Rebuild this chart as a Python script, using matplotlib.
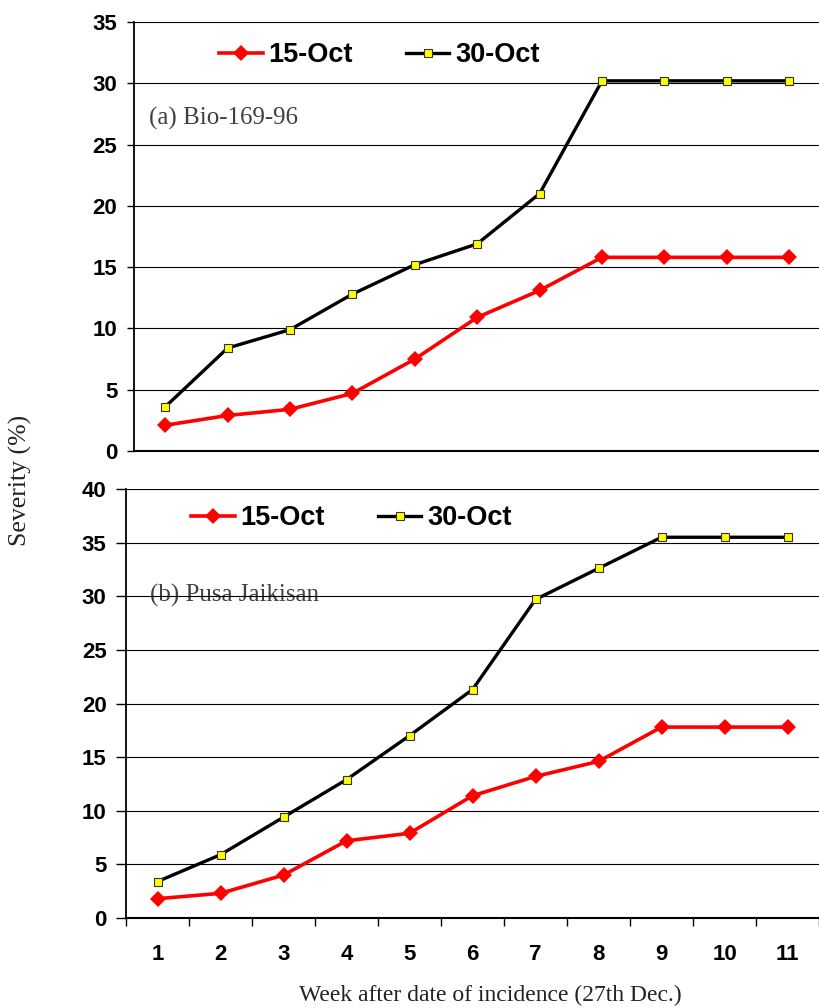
import matplotlib
matplotlib.use("Agg")
import matplotlib.pyplot as plt
import numpy as np

weeks = [1, 2, 3, 4, 5, 6, 7, 8, 9, 10, 11]
week_labels = ["1", "2", "3", "4", "5", "6", "7", "8", "9", "10", "11"]

# (a) Bio-169-96
bio_15oct = [2.1, 2.9, 3.4, 4.7, 7.5, 10.9, 13.1, 15.8, 15.8, 15.8, 15.8]
bio_30oct = [3.6, 8.4, 9.9, 12.8, 15.2, 16.9, 21.0, 30.2, 30.2, 30.2, 30.2]

# (b) Pusa Jaikisan
pusa_15oct = [1.8, 2.3, 4.0, 7.2, 7.9, 11.4, 13.2, 14.6, 17.8, 17.8, 17.8]
pusa_30oct = [3.4, 5.9, 9.4, 12.9, 17.0, 21.3, 29.7, 32.6, 35.5, 35.5, 35.5]

series_names = ["15-Oct", "30-Oct"]

W, H = 819, 1008
fig = plt.figure(figsize=(W / 100, H / 100), dpi=100)

def fx(px):
    return px / W

def fy(py):
    return 1 - py / H

serif = "Liberation Serif"
TICK_FS = 16

def style_axes(ax, ymax, tick_len):
    ax.set_ylim(0, ymax)
    ax.set_yticks(np.arange(0, ymax + 1, 5))
    ax.yaxis.grid(True, color="black", linewidth=0.8)
    ax.set_axisbelow(True)
    for s in ["top", "right"]:
        ax.spines[s].set_visible(False)
    ax.spines["left"].set_linewidth(1.3)
    ax.spines["bottom"].set_linewidth(1.5)
    ax.tick_params(axis="y", direction="out", length=tick_len, width=1.0,
                   pad=7, labelsize=TICK_FS)
    for lab in ax.get_yticklabels():
        lab.set_fontfamily("Liberation Sans")
        lab.set_fontweight("bold")

def draw(ax, s1, s2):
    ax.plot(weeks, s1, color="#FF0000", linewidth=2.6, marker="D",
            markersize=8, markeredgewidth=0, label=series_names[0], zorder=3)
    ax.plot(weeks, s2, color="black", linewidth=2.4, marker="s",
            markersize=6, markerfacecolor="#FFFF00", markeredgecolor="#333333",
            markeredgewidth=0.8, label=series_names[1], zorder=3)

# Top axes
t_left, t_top, t_bot = 134, 22, 451
ax1 = fig.add_axes([fx(t_left), fy(t_bot), 1 - fx(t_left), (t_bot - t_top) / H])
draw(ax1, bio_15oct, bio_30oct)
ax1.set_xlim(0.5, 0.5 + (W - t_left) / 62.4)
ax1.set_xticks([])
style_axes(ax1, 35, 5)

# Bottom axes
b_left, b_top, b_bot = 126, 489, 918
ax2 = fig.add_axes([fx(b_left), fy(b_bot), 1 - fx(b_left), (b_bot - b_top) / H])
draw(ax2, pusa_15oct, pusa_30oct)
ax2.set_xlim(0.5, 0.5 + (W - b_left) / 63.9)
style_axes(ax2, 40, 7)
ax2.set_xticks(np.arange(0.5, 12, 1.0))
ax2.set_xticklabels([])
ax2.tick_params(axis="x", which="major", direction="out", length=6, width=1.0)
ax2.set_xticks(weeks, minor=True)
ax2.set_xticklabels(week_labels, minor=True, fontsize=TICK_FS,
                    fontfamily="Liberation Sans", fontweight="bold")
ax2.tick_params(axis="x", which="minor", length=0, pad=19)

# Legends
leg_kw = dict(ncol=2, frameon=False, borderpad=0, borderaxespad=0,
              handlelength=1.62, handletextpad=0.2, columnspacing=1.95,
              prop={"family": "Liberation Sans", "weight": "bold", "size": 19.5})
ax1.legend(loc="center left", bbox_to_anchor=(fx(219), fy(55)),
           bbox_transform=fig.transFigure, **leg_kw)
ax2.legend(loc="center left", bbox_to_anchor=(fx(191), fy(518)),
           bbox_transform=fig.transFigure, **leg_kw)

# Annotations
fig.text(fx(149), fy(125), "(a) Bio-169-96", family=serif, fontsize=18,
         color="#404040", va="baseline", ha="left")
ax2.text(fx(150), fy(602), "(b) Pusa Jaikisan", family=serif, fontsize=18,
         color="#404040", va="baseline", ha="left", transform=fig.transFigure,
         zorder=0)

# Axis labels
fig.text(fx(20), fy(480), "Severity (%)", family=serif, fontsize=18.5,
         color="#222222", rotation=90, ha="center", va="center")
fig.text(fx(490), fy(995), "Week after date of incidence (27th Dec.)",
         family=serif, fontsize=17, color="#222222", ha="center", va="center")

fig.savefig("out.png", dpi=100)
